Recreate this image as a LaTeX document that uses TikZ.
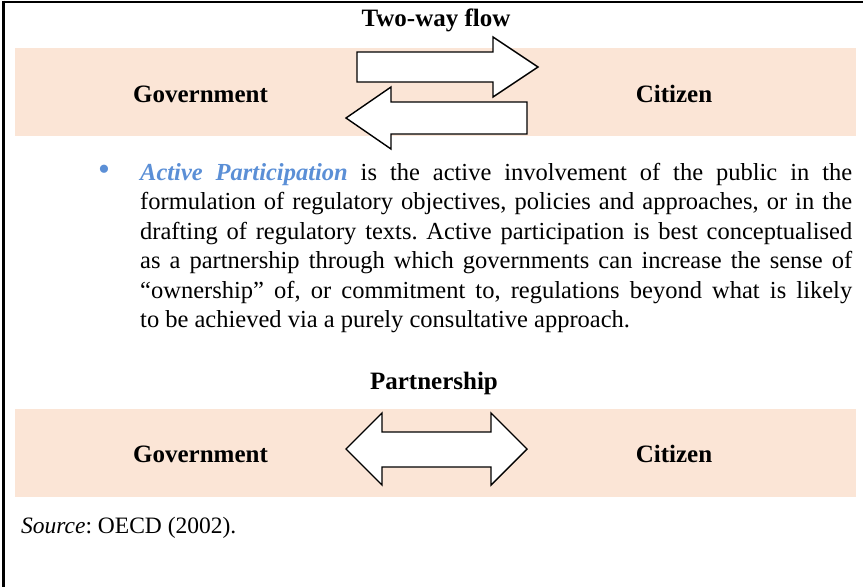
\documentclass[tikz,border=0pt]{standalone}
\usepackage{fontspec}
\setmainfont{Liberation Serif}
\definecolor{peach}{HTML}{FBE5D6}
\definecolor{pblue}{HTML}{5B8FD6}
\frenchspacing
\begin{document}
\begin{tikzpicture}[x=1pt,y=-1pt,
  band/.style={fill=peach,draw=none},
  blockarrow/.style={fill=white,draw=black,line width=1.4pt,line join=miter},
  label/.style={font=\fontsize{25}{30}\selectfont\bfseries,anchor=base,inner sep=0},
  frameline/.style={line width=2.6pt}]
\useasboundingbox (0,0) rectangle (863,587);
% frame
\draw[frameline] (3.5,2) -- (863,2);
\draw[frameline] (3.5,0.7) -- (3.5,587);
% bands
\fill[band] (15,48) rectangle (856,136);
\fill[band] (15,409) rectangle (856,497);
% titles
\node[label] (twoway) at (436,26) {Two-way flow};
\node[label] (partner) at (434,389) {Partnership};
% top band labels
\node[label] (gov1) at (200.5,102) {Government};
\node[label] (cit1) at (674,102) {Citizen};
% top arrows
\draw[blockarrow] (357,52) -- (493,52) -- (493,37) -- (538,67) -- (493,97) -- (493,82) -- (357,82) -- cycle;
\draw[blockarrow] (527,102) -- (391,102) -- (391,87) -- (346,118) -- (391,149) -- (391,134) -- (527,134) -- cycle;
% paragraph
\node[text=pblue,font=\fontsize{34}{34}\selectfont,inner sep=0] (bullet) at (104,173) {•};
\node[anchor=north west,inner sep=0,text width=712pt,align=justify,
      font=\fontsize{24.5}{29.4}\selectfont] (para) at (140,163)
 {\tolerance=10000\hyphenpenalty=10000\frenchspacing
  \textcolor{pblue}{\textbf{\textit{Active Participation}}} is the active involvement of the public in the\linebreak
  formulation of regulatory objectives, policies and approaches, or in the\linebreak
  drafting of regulatory texts. Active participation is best conceptualised\linebreak
  as a partnership through which governments can increase the sense of\linebreak
  “ownership” of, or commitment to, regulations beyond what is likely\linebreak
  to be achieved via a purely consultative approach.};
% bottom band
\node[label] (gov2) at (200.5,462) {Government};
\node[label] (cit2) at (674,462) {Citizen};
\draw[blockarrow] (346,449) -- (382,413) -- (382,432) -- (491,432) -- (491,413) -- (527,449) -- (491,485) -- (491,467) -- (382,467) -- (382,485) -- cycle;
% source
\node[anchor=base west,inner sep=0,font=\fontsize{23.5}{28}\selectfont] (source) at (21,533) {\frenchspacing\textit{Source}: OECD (2002).};
\end{tikzpicture}
\end{document}
